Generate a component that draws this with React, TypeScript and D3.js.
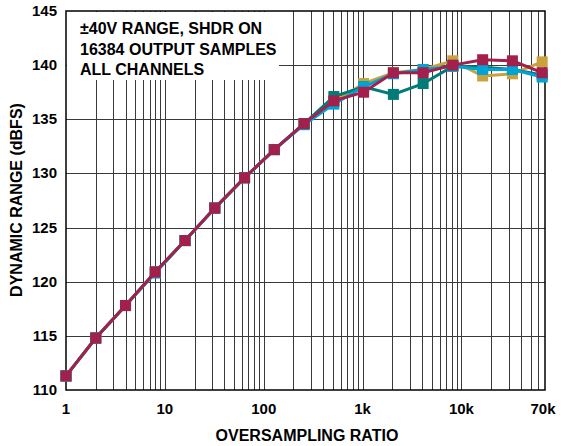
import React from "react";
import * as d3 from "d3";

const ratios = [1, 2, 4, 8, 16, 32, 64, 128, 256, 512, 1024, 2048, 4096, 8192, 16384, 32768, 65536];
const gold = [111.3, 114.8, 117.8, 120.9, 123.8, 126.8, 129.6, 132.2, 134.6, 136.6, 138.3, 139.3, 139.6, 140.4, 139.0, 139.2, 140.3];
const teal = [111.3, 114.8, 117.8, 120.9, 123.8, 126.8, 129.6, 132.2, 134.6, 137.1, 138.0, 137.3, 138.3, 139.9, 139.8, 139.6, 139.1];
const blue = [111.3, 114.8, 117.8, 120.8, 123.8, 126.8, 129.6, 132.2, 134.5, 136.4, 138.0, 139.2, 139.6, 139.9, 139.6, 139.6, 138.9];
const crimson = [111.3, 114.8, 117.8, 120.9, 123.8, 126.8, 129.6, 132.2, 134.6, 136.7, 137.5, 139.3, 139.3, 140.0, 140.5, 140.4, 139.3];
const seriesList = [
  { name: "gold", values: gold, color: "#c9a13d" },
  { name: "teal", values: teal, color: "#007b78" },
  { name: "blue", values: blue, color: "#00a3d4" },
  { name: "crimson", values: crimson, color: "#a3204d" },
];
const yTicks = [110, 115, 120, 125, 130, 135, 140, 145];
const xTickValues = [1, 10, 100, 1000, 10000, 70000];
const xTickLabels = ["1", "10", "100", "1k", "10k", "70k"];
const noteLines = ["±40V RANGE, SHDR ON", "16384 OUTPUT SAMPLES", "ALL CHANNELS"];

const L = 66, R = 545, T = 11, B = 390;

export default function App() {
  const x = d3.scaleLog().domain([1, 70000]).range([L, R]);
  const y = d3.scaleLinear().domain([110, 145]).range([B, T]);
  const minor: number[] = [];
  for (let k = 0; k < 5; k++) {
    for (let m = 1; m <= 9; m++) {
      const v = m * Math.pow(10, k);
      if (v > 1 && v < 70000) minor.push(v);
    }
  }
  const line = d3.line<number>().x((_, i) => x(ratios[i])).y((d) => y(d));
  const font = "'Liberation Sans', Arial, sans-serif";
  return (
    <svg width={563} height={446} style={{ display: "block", position: "absolute", left: 0, top: 0 }}>
      <rect width={563} height={446} fill="#fff" />
      {minor.map((v) => (
        <line key={"v" + v} x1={Math.round(x(v)) + 0.5} x2={Math.round(x(v)) + 0.5} y1={T} y2={B} stroke="#3a3a3a" strokeWidth={1} />
      ))}
      {yTicks.slice(1, -1).map((t) => (
        <line key={"h" + t} x1={L} x2={R} y1={Math.round(y(t)) + 0.5} y2={Math.round(y(t)) + 0.5} stroke="#3a3a3a" strokeWidth={1} />
      ))}
      <rect x={L + 1} y={T + 1} width={278 - L} height={79 - T} fill="#fff" />
      <rect x={L} y={T} width={R - L} height={B - T} fill="none" stroke="#000" strokeWidth={1.5} />
      {noteLines.map((s, i) => (
        <text key={s} x={80} y={34 + i * 20.5} fontFamily={font} fontWeight="bold" fontSize={16} fill="#000">{s}</text>
      ))}
      {seriesList.map((s) => (
        <g key={s.name}>
          <path d={line(s.values) || ""} fill="none" stroke={s.color} strokeWidth={3} />
          {s.values.map((v, i) => (
            <rect key={i} x={x(ratios[i]) - 5.5} y={y(v) - 5.5} width={11} height={11} fill={s.color} />
          ))}
        </g>
      ))}
      {yTicks.map((t) => (
        <text key={"yl" + t} x={57} y={y(t) + 5} textAnchor="end" fontFamily={font} fontWeight="bold" fontSize={15} fill="#000">{t}</text>
      ))}
      {xTickValues.map((v, i) => (
        <text key={"xl" + v} x={i === 5 ? x(v) - 2 : x(v)} y={414} textAnchor="middle" fontFamily={font} fontWeight="bold" fontSize={15} fill="#000">{xTickLabels[i]}</text>
      ))}
      <text x={307} y={441} textAnchor="middle" fontFamily={font} fontWeight="bold" fontSize={16} fill="#000">OVERSAMPLING RATIO</text>
      <text transform={`translate(22,200) rotate(-90)`} textAnchor="middle" fontFamily={font} fontWeight="bold" fontSize={16} fill="#000">DYNAMIC RANGE (dBFS)</text>
    </svg>
  );
}
